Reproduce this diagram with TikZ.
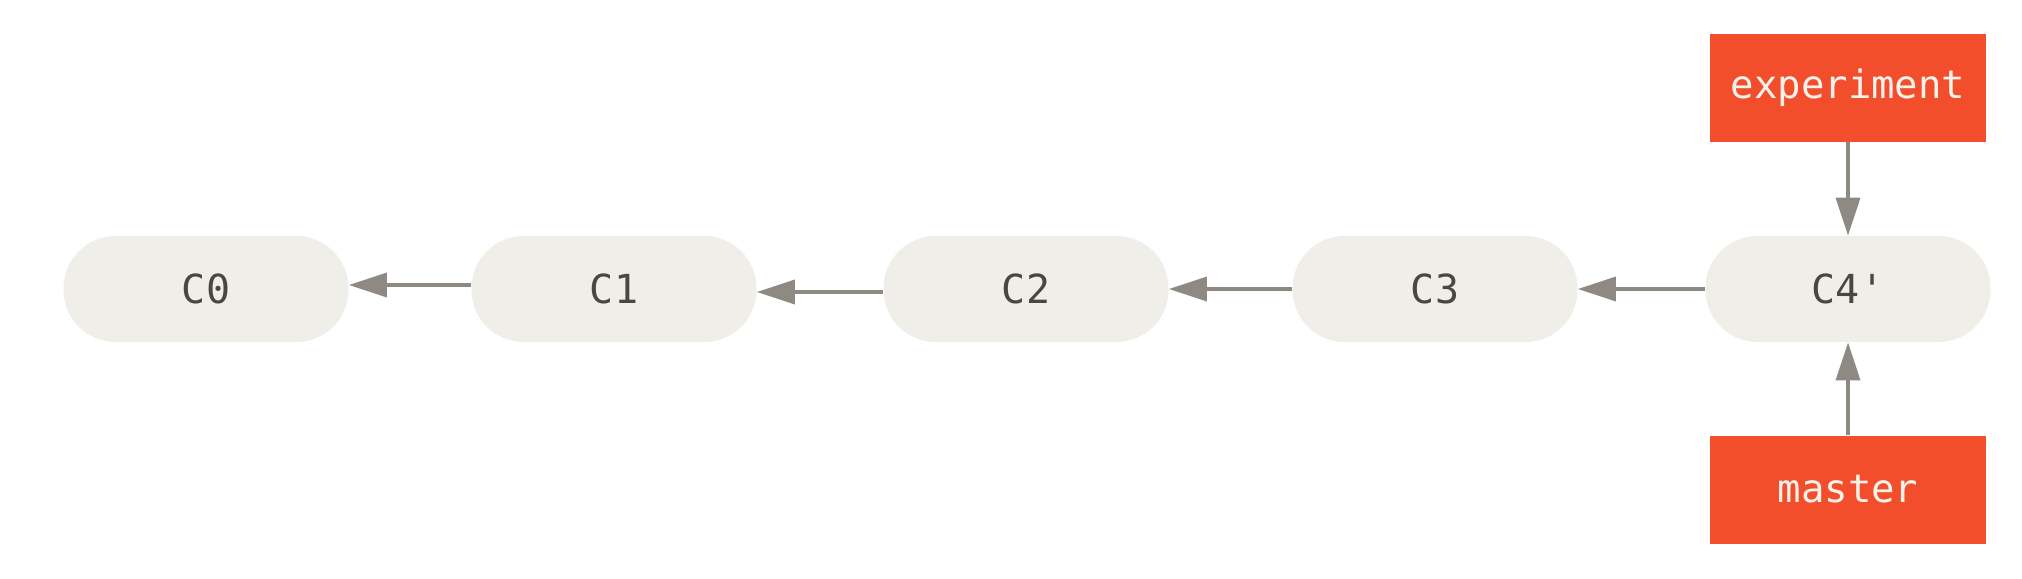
\documentclass[tikz,border=0pt]{standalone}
\usepackage{fontspec}
\setmonofont{DejaVu Sans Mono}
\usetikzlibrary{arrows.meta}
\definecolor{commitfill}{HTML}{EFEEE8}
\definecolor{committext}{HTML}{4A4641}
\definecolor{arrowgray}{HTML}{8E8A83}
\definecolor{branchred}{HTML}{F24E2B}
\definecolor{branchtext}{HTML}{F5F2EC}
\tikzset{
  commit/.style={fill=commitfill, draw=none, rounded corners=26pt,
    minimum width=142.5pt, minimum height=53pt, inner sep=0pt,
    text=committext, font=\ttfamily\fontsize{20pt}{22pt}\selectfont},
  branch/.style={fill=branchred, draw=none,
    minimum width=138pt, minimum height=54pt, inner sep=0pt,
    text=branchtext, font=\ttfamily\fontsize{19.5pt}{22pt}\selectfont},
  link/.style={draw=arrowgray, line width=1.8pt,
    -{Triangle[length=19pt,width=12pt]}, arrowgray},
}
\begin{document}
\begin{tikzpicture}[x=0.5pt,y=-0.5pt]
\useasboundingbox (0,0) rectangle (2022,578);
\node[commit] (c0) at (206,289) {C0};
\node[commit] (c1) at (614,289) {C1};
\node[commit] (c2) at (1026,289) {C2};
\node[commit] (c3) at (1435,289) {C3};
\node[commit] (c4) at (1848,289) {C4'};
\node[branch] (exp) at (1848,88) {experiment};
\node[branch] (mas) at (1848,489.5) {master};
\draw[link] ([yshift=2pt]c1.west) -- ([yshift=2pt]c0.east);
\draw[link] ([yshift=-1.5pt]c2.west) -- ([yshift=-1.5pt]c1.east);
\draw[link] (c3.west) -- (c2.east);
\draw[link] (c4.west) -- (c3.east);
\draw[link] (exp.south) -- (c4.north);
\draw[link] (mas.north) -- (c4.south);
\end{tikzpicture}
\end{document}
